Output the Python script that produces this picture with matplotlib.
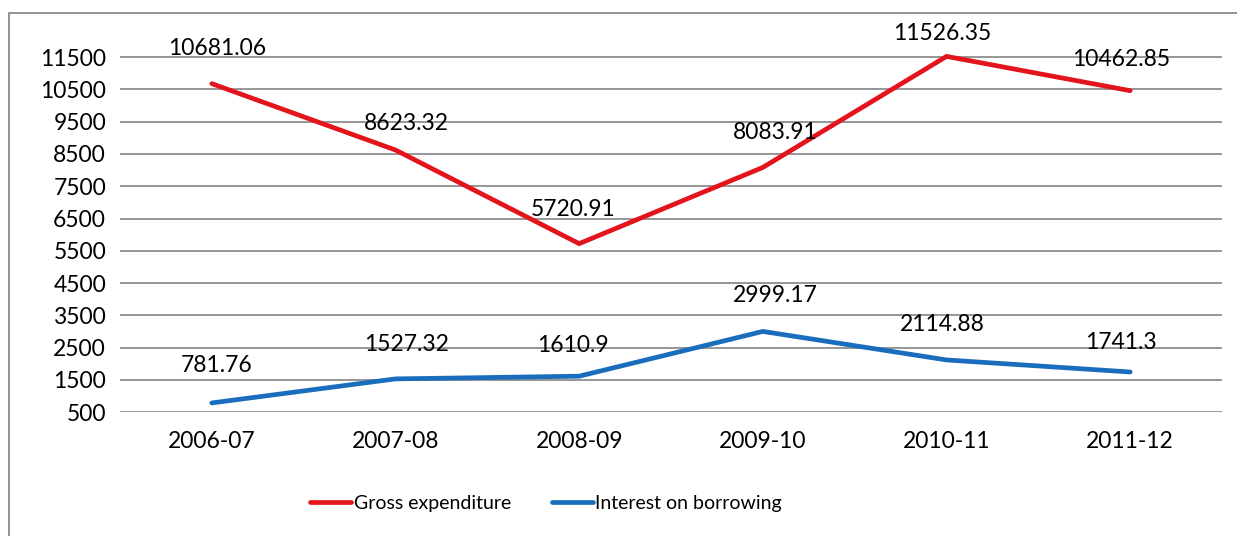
import matplotlib
matplotlib.use("Agg")
import matplotlib.pyplot as plt
from matplotlib.lines import Line2D
from matplotlib.patches import Rectangle
import numpy as np

years = ["2006-07", "2007-08", "2008-09", "2009-10", "2010-11", "2011-12"]
gross_expenditure = [10681.06, 8623.32, 5720.91, 8083.91, 11526.35, 10462.85]
interest_on_borrowing = [781.76, 1527.32, 1610.9, 2999.17, 2114.88, 1741.3]
yticks = list(range(500, 12000, 1000))

# label placement (pixel offsets from each point)
label_dx = [5, 11, -6, 12, -4, -9]
gross_dy = [35, 27, 34, 35, 23, 31]
interest_dy = [37, 34, 31, 36, 35, 29]

RED = "#E3141C"
BLUE = "#1A6DBC"
GRID = "#8E8E8E"

plt.rcParams["font.family"] = ["Lato", "DejaVu Sans"]

fig = plt.figure(figsize=(12.37, 5.36), dpi=100)
ax = fig.add_axes([0.0970, 0.2313, 0.8909, 0.6920])

x = np.arange(len(years))
ax.plot(x, gross_expenditure, color=RED, lw=3.4, solid_capstyle="round",
        solid_joinstyle="miter", zorder=3)
ax.plot(x, interest_on_borrowing, color=BLUE, lw=3.4, solid_capstyle="round",
        solid_joinstyle="miter", zorder=3)

for i, v in enumerate(gross_expenditure):
    ax.annotate(str(v), (x[i], v), xytext=(label_dx[i], gross_dy[i]),
                textcoords="offset pixels", ha="center", va="center",
                fontsize=16.5, color="black", zorder=4)
for i, v in enumerate(interest_on_borrowing):
    ax.annotate(str(v), (x[i], v), xytext=(label_dx[i], interest_dy[i]),
                textcoords="offset pixels", ha="center", va="center",
                fontsize=16.5, color="black", zorder=4)

ax.set_xlim(-0.5, len(years) - 0.5)
ax.set_ylim(500, 12000)
ax.set_yticks(yticks)
ax.set_yticklabels([str(t) for t in yticks])
ax.set_xticks(x)
ax.set_xticklabels(years)
ax.tick_params(axis="both", length=0, labelsize=16.5)
ax.tick_params(axis="y", pad=10)
ax.tick_params(axis="x", pad=14)
ax.grid(axis="y", color=GRID, lw=1.3)
ax.set_axisbelow(True)
for s in ax.spines.values():
    s.set_visible(False)

# outer chart border (runs off the right/bottom edge)
fig.patches.append(Rectangle((9 / 1237, -0.1), 1.2, 1 - 13 / 536 + 0.1,
                             transform=fig.transFigure, fill=False,
                             edgecolor="#8A8A8A", lw=1.3))

handles = [Line2D([], [], color=RED, lw=3.4, solid_capstyle="round"),
           Line2D([], [], color=BLUE, lw=3.4, solid_capstyle="round")]
fig.legend(handles, ["Gross expenditure", "Interest on borrowing"],
           loc="center", bbox_to_anchor=(546 / 1237, 1 - 503 / 536),
           ncol=2, frameon=False, fontsize=14, handlelength=2.1,
           handletextpad=0.15, columnspacing=2.1)

fig.savefig("out.png", dpi=100)
